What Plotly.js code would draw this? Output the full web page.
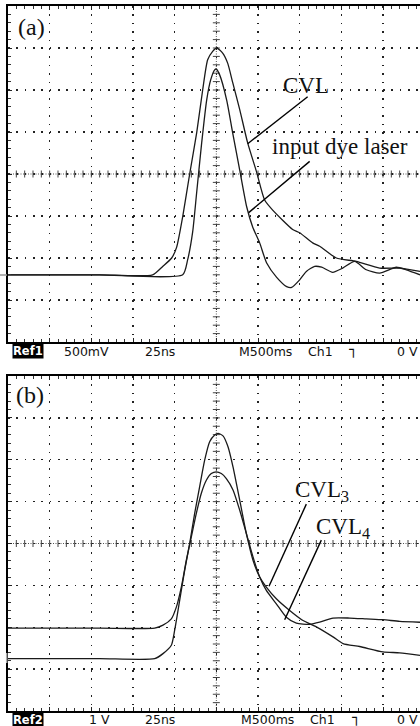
<!DOCTYPE html>
<html><head><meta charset="utf-8">
<script src="https://cdn.plot.ly/plotly-3.0.1.min.js"></script>
<style>html,body{margin:0;padding:0;background:#fff;}#chart{width:420px;height:726px;}</style>
</head><body><div id="chart"></div>
<script>
// ---- Panel (a): 25 ns/div, 500 mV/div ----
const timeCvlA = [-125, -70, -38.2, -32.2, -26.8, -23.8, -20.2, -16.0, -11.8, -8.2, -5.2, -2.2, 0.2, 3.8, 6.8, 9.8, 14.0, 18.8, 24.2, 29.0, 33.8, 45.8, 50.0, 57.8, 62.0, 72.0, 84.0, 98.0, 110.0, 122.2];
const voltCvlA = [-1.20, -1.20, -1.20, -1.10, -1.00, -0.87, -0.51, 0.00, 0.49, 1.00, 1.36, 1.46, 1.50, 1.44, 1.32, 1.09, 0.77, 0.37, 0.02, -0.31, -0.43, -0.66, -0.70, -0.82, -0.86, -1.00, -1.04, -1.12, -1.12, -1.16];
const timeDyeA = [-125, -70, -20.2, -17.2, -14.2, -11.8, -8.8, -5.8, -3.4, -1.0, -0.1, 2.0, 6.2, 9.8, 14.0, 18.2, 21.8, 26.0, 30.2, 36.2, 42.2, 45.2, 50.0, 54.0, 59.0, 63.2, 69.8, 75.8, 83.0, 90.0, 98.0, 108.0, 114.0, 122.2];
const voltDyeA = [-1.20, -1.20, -1.20, -1.02, -0.69, -0.22, 0.37, 0.88, 1.12, 1.24, 1.25, 1.18, 0.88, 0.49, 0.05, -0.39, -0.63, -0.82, -1.06, -1.23, -1.34, -1.35, -1.26, -1.16, -1.10, -1.11, -1.17, -1.12, -1.04, -1.14, -1.18, -1.11, -1.14, -1.20];

// ---- Panel (b): 25 ns/div, 1 V/div ----
const timeCvl3 = [-125, -70, -37, -32, -27, -25, -22, -19, -16, -13, -10, -7, -4, -1, 1, 4, 7, 10, 14, 18, 22, 26, 30, 36, 44, 52, 60, 70, 76, 86, 100, 110, 122.2];
const voltCvl3 = [-2.75, -2.75, -2.75, -2.63, -2.43, -2.07, -1.36, -0.64, 0.00, 0.72, 1.36, 1.99, 2.43, 2.59, 2.63, 2.57, 2.31, 1.83, 1.04, 0.24, -0.40, -0.80, -1.04, -1.32, -1.60, -1.84, -1.99, -2.23, -2.39, -2.46, -2.59, -2.61, -2.67];
const timeCvl4 = [-125, -70, -37, -32, -27, -24, -21, -18, -15, -12, -9, -6, -3, 0, 3, 6, 10, 14, 18, 22, 26, 30, 36, 42, 48, 56, 62, 70, 80, 90, 100, 110, 122.2];
const voltCvl4 = [-2.02, -2.02, -2.02, -1.95, -1.80, -1.52, -1.04, -0.40, 0.16, 0.72, 1.20, 1.51, 1.67, 1.71, 1.67, 1.55, 1.28, 0.80, 0.24, -0.32, -0.80, -1.12, -1.44, -1.76, -1.90, -1.93, -1.88, -1.78, -1.78, -1.80, -1.82, -1.86, -1.88];

const statusA = ['500mV', '25ns', 'M500ms', 'Ch1', '0 V'];
const statusB = ['1 V', '25ns', 'M500ms', 'Ch1', '0 V'];

const TRACE = '#1a1a1a';
const GRID = '#222';

function sig(x, y, xa, ya) {
  return {x: x, y: y, xaxis: xa, yaxis: ya, type: 'scatter', mode: 'lines',
    line: {color: TRACE, width: 1.3, shape: 'spline', smoothing: 0.6}, hoverinfo: 'skip', showlegend: false};
}

// centre-line cross ticks (graticule decoration)
function centreTicks(xa, ya, vstep, vmax) {
  const hx = [], hy = [], vx = [], vy = [];
  for (let t = -120; t <= 120; t += 5) { if (t !== 0) { hx.push(t); hy.push(0); } }
  const n = Math.round(vmax / vstep);
  for (let k = -n + 1; k <= n - 1; k++) { if (k !== 0) { vx.push(0); vy.push(k * vstep); } }
  return [
    {x: hx, y: hy, xaxis: xa, yaxis: ya, type: 'scatter', mode: 'markers', hoverinfo: 'skip', showlegend: false,
     marker: {symbol: 'line-ns', size: 5, line: {color: '#444', width: 1}}},
    {x: vx, y: vy, xaxis: xa, yaxis: ya, type: 'scatter', mode: 'markers', hoverinfo: 'skip', showlegend: false,
     marker: {symbol: 'line-ew', size: 5, line: {color: '#444', width: 1}}}
  ];
}

const data = [
  ...centreTicks('x', 'y', 0.1, 2),
  ...centreTicks('x2', 'y2', 0.2, 4),
  sig(timeCvlA, voltCvlA, 'x', 'y'),
  sig(timeDyeA, voltDyeA, 'x', 'y'),
  sig(timeCvl3, voltCvl3, 'x2', 'y2'),
  sig(timeCvl4, voltCvl4, 'x2', 'y2')
];

function xAx(anchor) {
  return {anchor: anchor, range: [-125, 122.2], tick0: 0, dtick: 25, showticklabels: false,
    showgrid: true, gridcolor: GRID, gridwidth: 1.3, griddash: '1.5px,6.9px', zeroline: false,
    showline: true, linecolor: '#000', linewidth: 1.6, mirror: 'ticks',
    ticks: 'inside', ticklen: 4, tickcolor: '#222', tickwidth: 1,
    minor: {dtick: 5, ticks: 'inside', ticklen: 3, tickcolor: '#333', tickwidth: 1, showgrid: false},
    fixedrange: true};
}
function yAx(anchor, r, d, md, dom) {
  return {anchor: anchor, domain: dom, range: r, tick0: 0, dtick: d, showticklabels: false,
    showgrid: true, gridcolor: GRID, gridwidth: 1.3, griddash: '1.8px,6.53px', zeroline: false,
    showline: true, linecolor: '#000', linewidth: 1.6, mirror: false,
    ticks: 'inside', ticklen: 4, tickcolor: '#222', tickwidth: 1,
    minor: {dtick: md, ticks: 'inside', ticklen: 3, tickcolor: '#333', tickwidth: 1, showgrid: false},
    fixedrange: true};
}

const PX = p => (p - 8) / 412;        // page x px -> paper
const PY = p => (711 - p) / 705;      // page y px -> paper

const serif = {family: 'Liberation Serif, Times New Roman, serif', size: 23, color: '#111'};
const serifBig = {family: 'Liberation Serif, Times New Roman, serif', size: 24, color: '#111'};
const mono = {family: 'DejaVu Sans, sans-serif', size: 12.5, color: '#111'};

function statusRow(labels, refName, yPix, xLefts) {
  const arr = [{xref: 'paper', yref: 'paper', x: PX(12), y: PY(yPix), xanchor: 'left', yanchor: 'middle',
    text: '<b>' + refName + '</b>', showarrow: false, bgcolor: '#000', borderpad: 0,
    font: {family: 'DejaVu Sans, sans-serif', size: 11.5, color: '#fff'}}];
  labels.forEach((t, i) => {
    const last = i === labels.length - 1;
    arr.push({xref: 'paper', yref: 'paper', x: last ? 1 : PX(xLefts[i]), y: PY(yPix),
      xanchor: last ? 'right' : 'left', yanchor: 'middle', text: t, showarrow: false, font: mono});
  });
  arr.push({xref: 'paper', yref: 'paper', x: PX(xLefts[4]), y: PY(yPix - 2), xanchor: 'left', yanchor: 'middle',
    text: '┐', showarrow: false, font: {family: 'DejaVu Sans, sans-serif', size: 14, color: '#111'}});
  return arr;
}

const annotations = [
  {xref: 'paper', yref: 'paper', x: PX(16), y: PY(26.7), xanchor: 'left', yanchor: 'middle', text: '(a)', showarrow: false, font: serifBig},
  {xref: 'paper', yref: 'paper', x: PX(14), y: PY(395), xanchor: 'left', yanchor: 'middle', text: '(b)', showarrow: false, font: serifBig},
  {xref: 'x', yref: 'y', x: 53.9, y: 1.05, text: 'CVL', showarrow: false, font: serif},
  {xref: 'x', yref: 'y', x: 74.0, y: 0.33, text: 'input dye laser', showarrow: false, font: serif},
  {xref: 'x2', yref: 'y2', x: 63.5, y: 1.25, text: 'CVL<sub>3</sub>', showarrow: false, font: serif},
  {xref: 'x2', yref: 'y2', x: 76.1, y: 0.37, text: 'CVL<sub>4</sub>', showarrow: false, font: serif},
  ...statusRow(statusA, 'Ref1', 351, [62, 142.7, 237, 306, 346.7]),
  ...statusRow(statusB, 'Ref2', 720, [87, 142.7, 239, 308, 350])
];

function centreLines(xr, yr) {
  return [
    {type: 'line', layer: 'below', xref: xr, yref: yr + ' domain', x0: 0, x1: 0, y0: 0, y1: 1, line: {color: '#555', width: 1, dash: '1px,1.5px'}},
    {type: 'line', layer: 'below', xref: xr + ' domain', yref: yr, x0: 0, x1: 1, y0: 0, y1: 0, line: {color: '#555', width: 1, dash: '1px,1.5px'}}
  ];
}
function pointer(xr, yr, x0, y0, x1, y1) {
  return {type: 'line', xref: xr, yref: yr, x0: x0, y0: y0, x1: x1, y1: y1, line: {color: '#000', width: 1.4}};
}

const shapes = [
  ...centreLines('x', 'y'),
  ...centreLines('x2', 'y2'),
  pointer('x', 'y', 18.8, 0.36, 54.8, 0.92),
  pointer('x', 'y', 19.4, -0.46, 56.0, 0.15),
  pointer('x2', 'y2', 31.6, -1.02, 54.0, 0.94),
  pointer('x2', 'y2', 41.0, -1.82, 63.0, 0.08),
  {type: 'line', xref: 'paper', yref: 'paper', x0: PX(0), x1: PX(7), y0: PY(275), y1: PY(275), line: {color: '#999', width: 1.5}},
  {type: 'line', xref: 'paper', yref: 'paper', x0: PX(6.7), x1: PX(6.7), y0: PY(653), y1: PY(663), line: {color: '#aaa', width: 1.5}}
];

const layout = {
  width: 420, height: 726,
  margin: {l: 8, r: 0, t: 6, b: 15, pad: 0},
  paper_bgcolor: '#fff', plot_bgcolor: '#fff',
  showlegend: false,
  xaxis: xAx('y'),
  xaxis2: xAx('y2'),
  yaxis: yAx('x', [-2, 2], 0.5, 0.1, [PY(342), 1]),
  yaxis2: yAx('x2', [-4, 4], 1, 0.2, [0, PY(376)]),
  annotations: annotations,
  shapes: shapes
};

Plotly.newPlot('chart', data, layout, {staticPlot: true, displayModeBar: false});
</script>
</body></html>
